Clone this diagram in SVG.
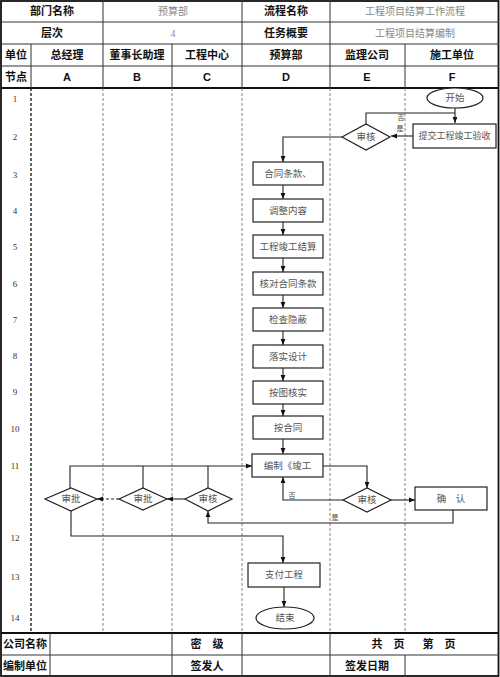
<svg xmlns="http://www.w3.org/2000/svg" width="500" height="677" viewBox="0 0 500 677">
<style>
.b{font-family:"Liberation Sans","Noto Sans CJK SC",sans-serif;font-weight:bold;font-size:11px;fill:#111;text-anchor:middle;dominant-baseline:central}
.v{font-family:"Liberation Serif","Noto Sans CJK SC",serif;font-size:10px;fill:#888;text-anchor:middle;dominant-baseline:central}
.num{font-family:"Liberation Serif","Noto Sans CJK SC",serif;font-size:9px;fill:#333;text-anchor:middle;dominant-baseline:central}
.t{font-family:"Liberation Serif","Noto Sans CJK SC",serif;font-size:9.5px;fill:#555;text-anchor:middle;dominant-baseline:central}
.lbl{font-family:"Liberation Serif","Noto Sans CJK SC",serif;font-size:7px;fill:#444;text-anchor:middle;dominant-baseline:central}
.g{stroke:#333;stroke-width:1;fill:none}
.gt{stroke:#111;stroke-width:1.8;fill:none}
.lane{stroke:#666;stroke-width:0.8;stroke-dasharray:3,2;fill:none}
.shape{fill:#fff;stroke:#222;stroke-width:1.2}
.c{stroke:#222;stroke-width:1.1;fill:none}
</style>
<defs>
<marker id="ah" viewBox="0 0 10 10" refX="10" refY="5" markerWidth="6" markerHeight="6" orient="auto" markerUnits="userSpaceOnUse"><path d="M0,1 L10,5 L0,9 z" fill="#111"/></marker>
</defs>
<rect width="500" height="677" fill="#fff"/>
<g id="table">
<rect x="1" y="1" width="497.5" height="675" class="gt"/>
<line x1="1" y1="22" x2="499" y2="22" class="g"/>
<line x1="1" y1="44" x2="499" y2="44" class="g"/>
<line x1="1" y1="66" x2="499" y2="66" class="g"/>
<line x1="1" y1="88" x2="499" y2="88" class="gt"/>
<line x1="1" y1="633" x2="499" y2="633" class="gt"/>
<line x1="1" y1="655" x2="499" y2="655" class="g"/>
<line x1="103" y1="0" x2="103" y2="88" class="g"/>
<line x1="242" y1="0" x2="242" y2="88" class="g"/>
<line x1="330" y1="0" x2="330" y2="88" class="g"/>
<line x1="31" y1="44" x2="31" y2="88" class="g"/>
<line x1="172" y1="44" x2="172" y2="88" class="g"/>
<line x1="405" y1="44" x2="405" y2="88" class="g"/>
<line x1="50" y1="633" x2="50" y2="677" class="g"/>
<line x1="172" y1="633" x2="172" y2="677" class="g"/>
<line x1="242" y1="633" x2="242" y2="677" class="g"/>
<line x1="330" y1="633" x2="330" y2="677" class="g"/>
<line x1="405" y1="655" x2="405" y2="677" class="g"/>
<line x1="31" y1="88" x2="31" y2="633" class="lane" style="stroke:#111;stroke-width:1.3"/>
<line x1="103" y1="88" x2="103" y2="633" class="lane"/>
<line x1="172" y1="88" x2="172" y2="633" class="lane"/>
<line x1="242" y1="88" x2="242" y2="633" class="lane"/>
<line x1="330" y1="88" x2="330" y2="633" class="lane"/>
<line x1="405" y1="88" x2="405" y2="633" class="lane"/>
<text x="52" y="11" class="b">部门名称</text>
<text x="173" y="11" class="v">预算部</text>
<text x="286" y="11" class="b">流程名称</text>
<text x="415" y="11" class="v">工程项目结算工作流程</text>
<text x="52" y="33" class="b">层次</text>
<text x="173" y="33" class="v">4</text>
<text x="286" y="33" class="b">任务概要</text>
<text x="415" y="33" class="v">工程项目结算编制</text>
<text x="16" y="55" class="b">单位</text>
<text x="67" y="55" class="b">总经理</text>
<text x="137" y="55" class="b">董事长助理</text>
<text x="207" y="55" class="b">工程中心</text>
<text x="286" y="55" class="b">预算部</text>
<text x="367" y="55" class="b">监理公司</text>
<text x="452" y="55" class="b">施工单位</text>
<text x="16" y="77" class="b">节点</text>
<text x="67" y="77" class="b">A</text>
<text x="137" y="77" class="b">B</text>
<text x="207" y="77" class="b">C</text>
<text x="286" y="77" class="b">D</text>
<text x="367" y="77" class="b">E</text>
<text x="452" y="77" class="b">F</text>
<text x="25" y="644" class="b">公司名称</text>
<text x="207" y="644" class="b">密　级</text>
<text x="388" y="644" class="b">共　页</text>
<text x="439" y="644" class="b">第　页</text>
<text x="25" y="666" class="b">编制单位</text>
<text x="207" y="666" class="b">签发人</text>
<text x="367" y="666" class="b">签发日期</text>
<text x="15" y="99" class="num">1</text>
<text x="15" y="137" class="num">2</text>
<text x="15" y="175" class="num">3</text>
<text x="15" y="211" class="num">4</text>
<text x="15" y="247" class="num">5</text>
<text x="15" y="284" class="num">6</text>
<text x="15" y="320" class="num">7</text>
<text x="15" y="356" class="num">8</text>
<text x="15" y="392" class="num">9</text>
<text x="15" y="429" class="num">10</text>
<text x="15" y="466" class="num">11</text>
<text x="15" y="538" class="num">12</text>
<text x="15" y="577" class="num">13</text>
<text x="15" y="618" class="num">14</text>
</g>
<g id="connectors">
<path d="M455,108 V123" class="c" marker-end="url(#ah)"/>
<path d="M366,124 V113 H455" class="c"/>
<path d="M413,136 H391" class="c" marker-end="url(#ah)"/>
<path d="M342,137 H283 V162" class="c" marker-end="url(#ah)"/>
<path d="M283,185 V199" class="c" marker-end="url(#ah)"/>
<path d="M283,222 V235" class="c" marker-end="url(#ah)"/>
<path d="M283,258 V272" class="c" marker-end="url(#ah)"/>
<path d="M283,295 V308" class="c" marker-end="url(#ah)"/>
<path d="M283,331 V345" class="c" marker-end="url(#ah)"/>
<path d="M283,368 V381" class="c" marker-end="url(#ah)"/>
<path d="M283,404 V416" class="c" marker-end="url(#ah)"/>
<path d="M283,439 V454" class="c" marker-end="url(#ah)"/>
<path d="M323,466 H367 V488" class="c" marker-end="url(#ah)"/>
<path d="M343,500 H283 V477" class="c" marker-end="url(#ah)"/>
<path d="M391,500 H415" class="c" marker-end="url(#ah)"/>
<path d="M453,510 V523 H208 V511" class="c" marker-end="url(#ah)"/>
<path d="M185,499 H167" class="c" marker-end="url(#ah)"/>
<path d="M119,499 H97" class="c" stroke-dasharray="3,2" marker-end="url(#ah)"/>
<path d="M70,488 V466 H252" class="c" marker-end="url(#ah)"/>
<path d="M143,488 V466" class="c"/>
<path d="M208,488 V466" class="c"/>
<path d="M71,511 V536 H283 V563" class="c" marker-end="url(#ah)"/>
<path d="M284,587 V607" class="c" marker-end="url(#ah)"/>
<text x="401" y="118" class="lbl">否</text>
<text x="400" y="129" class="lbl">是</text>
<text x="292" y="496" class="lbl">否</text>
<text x="335" y="518" class="lbl">是</text>
</g>
<g id="start"><ellipse cx="455" cy="98" rx="28" ry="10" class="shape"/><text x="455" y="98" class="t">开始</text></g>
<g id="submit"><rect x="413" y="124" width="83" height="24" class="shape"/><text x="454.5" y="136" class="t" style="font-size:9px">提交工程竣工验收</text></g>
<g id="audit1"><polygon points="342,137 366,124 390,137 366,150" class="shape"/><text x="366" y="137" class="t">审核</text></g>
<g id="n3"><rect x="253" y="162" width="70" height="23" class="shape"/><text x="288" y="173.5" class="t">合同条款、</text></g>
<g id="n4"><rect x="253" y="199" width="70" height="23" class="shape"/><text x="288" y="210.5" class="t">调整内容</text></g>
<g id="n5"><rect x="253" y="235" width="70" height="23" class="shape"/><text x="288" y="246.5" class="t">工程竣工结算</text></g>
<g id="n6"><rect x="253" y="272" width="70" height="23" class="shape"/><text x="288" y="283.5" class="t">核对合同条款</text></g>
<g id="n7"><rect x="253" y="308" width="70" height="23" class="shape"/><text x="288" y="319.5" class="t">检查隐蔽</text></g>
<g id="n8"><rect x="253" y="345" width="70" height="23" class="shape"/><text x="288" y="356.5" class="t">落实设计</text></g>
<g id="n9"><rect x="253" y="381" width="70" height="23" class="shape"/><text x="288" y="392.5" class="t">按图核实</text></g>
<g id="n10"><rect x="253" y="416" width="70" height="23" class="shape"/><text x="288" y="427.5" class="t">按合同</text></g>
<g id="n11"><rect x="252" y="454" width="71" height="23" class="shape"/><text x="287.5" y="465.5" class="t">编制《竣工</text></g>
<g id="auditE"><polygon points="343,500 367,488 391,500 367,512" class="shape"/><text x="367" y="500" class="t">审核</text></g>
<g id="confirm"><rect x="415" y="487" width="72" height="23" class="shape"/><text x="451" y="498.5" class="t">确　认</text></g>
<g id="auditC"><polygon points="185,499 208,488 232,499 208,511" class="shape"/><text x="208" y="499" class="t">审核</text></g>
<g id="approveB"><polygon points="119,499 143,488 167,499 143,510" class="shape"/><text x="143" y="499" class="t">审批</text></g>
<g id="approveA"><polygon points="45,499 71,488 97,499 71,511" class="shape"/><text x="71" y="499" class="t">审批</text></g>
<g id="pay"><rect x="248" y="563" width="72" height="24" class="shape"/><text x="284" y="575" class="t">支付工程</text></g>
<g id="end"><ellipse cx="285" cy="618" rx="29" ry="11" class="shape"/><text x="285" y="618" class="t">结束</text></g>
</svg>
